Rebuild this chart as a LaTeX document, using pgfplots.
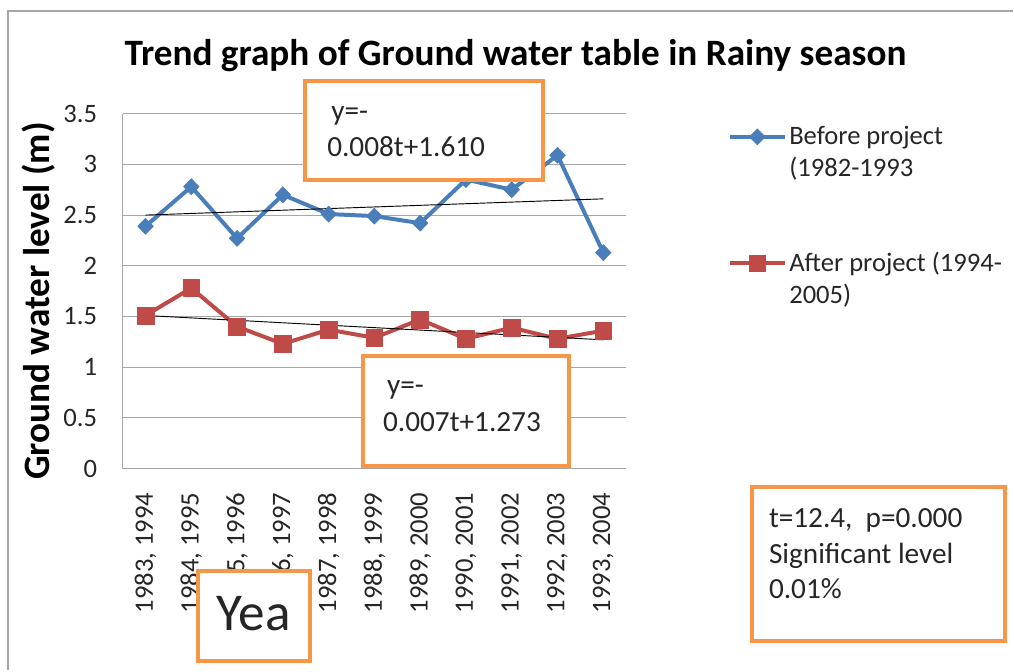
\documentclass[border=0pt]{standalone}
\usepackage{fontspec}
\setmainfont{Carlito}
\usepackage{pgfplots}
\pgfplotsset{compat=1.18}

\definecolor{xlblue}{HTML}{4A7EBB}
\definecolor{xlred}{HTML}{BE4B48}
\definecolor{xlorange}{HTML}{F79646}
\definecolor{gridgray}{HTML}{A6A6A6}

\newcommand{\fs}[1]{\fontsize{#1}{1.2\dimexpr#1pt\relax}\selectfont}
\newcommand{\twolines}[2]{\vtop{\hbox{#1}\hbox{#2}}}

\begin{document}
\begin{tikzpicture}
% page: 1014 x 670 px, 1 px = 0.75pt, axis corner at px (123,470)
\begin{scope}[x=0.75pt,y=-0.75pt,shift={(-123,-470)}]
\useasboundingbox (0,0) rectangle (1014,670);
\end{scope}

\begin{axis}[
    at={(0,0)}, anchor=south west,
    scale only axis,
    width=378.75pt, height=267pt,
    xmin=-0.5, xmax=10.5,
    ymin=0, ymax=3.5,
    axis x line*=bottom, axis y line*=left,
    axis line style={gridgray, line width=0.8pt, -},
    ymajorgrids,
    grid style={gridgray, line width=0.8pt},
    major tick length=0pt,
    ytick={0,0.5,1,1.5,2,2.5,3,3.5},
    yticklabels={0,0.5,1,1.5,2,2.5,3,3.5},
    yticklabel style={font=\fs{20}, inner sep=0pt, xshift=-19pt, text=black!85},
    xtick={0,...,10},
    xticklabels={{1983, 1994},{1984, 1995},{1985, 1996},{1986, 1997},{1987, 1998},
                 {1988, 1999},{1989, 2000},{1990, 2001},{1991, 2002},{1992, 2003},{1993, 2004}},
    xticklabel style={font=\fs{20}, rotate=90, anchor=east, inner sep=0pt, xshift=-18pt, text=black!85},
    legend style={at={(1.202,0.972)}, anchor=north west, draw=none, fill=none,
        font=\fs{20}, inner sep=0pt, row sep=75pt, text=black!85,
        cells={anchor=base west, inner sep=2pt}},
    legend image code/.code={
        \draw[mark repeat=2, mark phase=2, #1] plot coordinates {(0pt,6pt) (20.5pt,6pt) (41pt,6pt)};},
]
\addplot[xlblue, line width=3pt, line join=round, mark=diamond*,
    mark size=6pt, mark options={xscale=1.3, solid, line width=0.5pt}]
    coordinates {(0,2.39) (1,2.78) (2,2.27) (3,2.70) (4,2.51) (5,2.49)
                 (6,2.42) (7,2.85) (8,2.75) (9,3.09) (10,2.13)};
\addlegendentry{\twolines{Before project}{(1982-1993}}
\addplot[xlred, line width=3pt, line join=round, mark=square*,
    mark size=6.3pt, mark options={solid, line width=0.5pt}]
    coordinates {(0,1.51) (1,1.78) (2,1.40) (3,1.23) (4,1.37) (5,1.29)
                 (6,1.47) (7,1.28) (8,1.39) (9,1.28) (10,1.36)};
\addlegendentry{\twolines{After project (1994-}{2005)}}
% linear trend lines
\addplot[black, line width=0.7pt, forget plot] coordinates {(0,2.50) (10,2.66)};
\addplot[black, line width=0.7pt, forget plot] coordinates {(0,1.51) (10,1.27)};
\end{axis}

\begin{scope}[x=0.75pt,y=-0.75pt,shift={(-123,-470)}]
\draw[gray!70, line width=1.5pt] (8,672) -- (8,11) -- (1016,11);
\node[font=\bfseries\fs{28}] at (517,56) {Trend graph of Ground water table in Rainy season};
\node[font=\bfseries\fs{28}, rotate=90] at (39,302) {Ground water level (m)};

\begin{scope}[every node/.style={inner sep=0pt, anchor=base west, text=black!85}]
\draw[xlorange, line width=3pt, fill=white] (306,81) rectangle (545,181);
\node[font=\fs{22}] at (332,121) {y=-};
\node[font=\fs{22}] at (328,157) {0.008t+1.610};

\draw[xlorange, line width=3pt, fill=white] (364,357) rectangle (571,467);
\node[font=\fs{22}] at (388,396) {y=-};
\node[font=\fs{22}] at (384,433) {0.007t+1.273};

\draw[xlorange, line width=3pt, fill=white] (199,573) rectangle (311,663);
\node[font=\fs{40}] at (217,632) {Yea};

\draw[xlorange, line width=3pt, fill=white] (754,488) rectangle (1008,643);
\node[font=\fs{22}] at (771,529) {t=12.4,~ p=0.000};
\node[font=\fs{22}] at (771,565) {Significant level};
\node[font=\fs{22}] at (771,600) {0.01\%};
\end{scope}
\end{scope}
\end{tikzpicture}
\end{document}
